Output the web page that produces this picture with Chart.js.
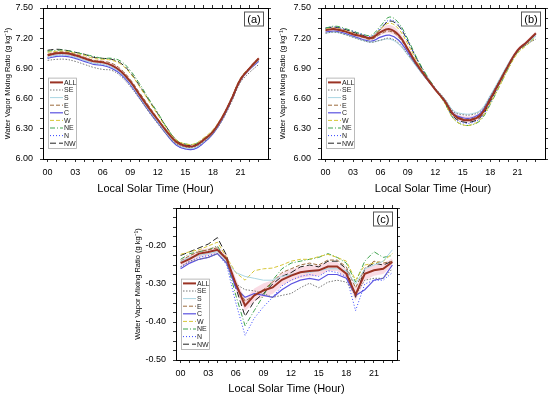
<!DOCTYPE html>
<html>
<head>
<meta charset="utf-8">
<script src="https://cdn.jsdelivr.net/npm/chart.js@4.4.0/dist/chart.umd.min.js"></script>
<style>
  body { margin: 0; background: #fff; width: 550px; height: 397px; position: relative; overflow: hidden; }
  .panel { position: absolute; }
</style>
</head>
<body>
<div class="panel" style="left:0;top:0;width:275px;height:197px"><canvas id="chartA"></canvas></div>
<div class="panel" style="left:275px;top:0;width:275px;height:197px"><canvas id="chartB"></canvas></div>
<div class="panel" style="left:130px;top:200px;width:272px;height:197px"><canvas id="chartC"></canvas></div>
<script>
// Timmar och etiketter
const HOURS = [0,1,2,3,4,5,6,7,8,9,10,11,12,13,14,15,16,17,18,19,20,21,22,23];
const X_LABELS = ['00','03','06','09','12','15','18','21'];
const SERIES = ['ALL','SE','S','E','C','W','NE','N','NW'];
const Y_LABELS_AB = ['6.00','6.30','6.60','6.90','7.20','7.50'];
const Y_LABELS_C = ['-0.50','-0.40','-0.30','-0.20'];

// (a)
const A_ALL = [7.03,7.05,7.05,7.03,7.00,6.97,6.96,6.93,6.87,6.77,6.64,6.51,6.39,6.27,6.17,6.13,6.13,6.19,6.27,6.41,6.59,6.79,6.90,7.00];
const A_SE  = [6.98,6.99,6.99,6.97,6.94,6.91,6.89,6.88,6.82,6.72,6.60,6.47,6.35,6.24,6.15,6.12,6.12,6.17,6.25,6.38,6.56,6.76,6.86,6.94];
const A_S   = [7.01,7.03,7.03,7.01,6.98,6.95,6.94,6.91,6.85,6.75,6.62,6.49,6.37,6.25,6.15,6.11,6.11,6.17,6.26,6.40,6.59,6.78,6.89,6.98];
const A_E   = [7.04,7.06,7.06,7.04,7.01,6.98,6.97,6.95,6.89,6.79,6.66,6.53,6.40,6.28,6.18,6.13,6.13,6.19,6.27,6.41,6.60,6.80,6.91,7.01];
const A_C   = [7.00,7.02,7.02,7.00,6.97,6.94,6.93,6.90,6.84,6.74,6.61,6.48,6.36,6.24,6.14,6.10,6.10,6.16,6.25,6.39,6.58,6.78,6.89,6.97];
const A_W   = [7.06,7.07,7.07,7.05,7.03,7.00,6.99,6.98,6.94,6.85,6.72,6.58,6.44,6.30,6.19,6.15,6.15,6.21,6.29,6.42,6.60,6.80,6.91,6.99];
const A_NE  = [7.07,7.08,7.08,7.06,7.04,7.02,7.00,7.00,6.97,6.88,6.75,6.60,6.46,6.31,6.19,6.15,6.15,6.20,6.28,6.41,6.59,6.79,6.90,6.98];
const A_N   = [7.01,7.03,7.03,7.01,6.98,6.95,6.94,6.91,6.85,6.74,6.61,6.48,6.36,6.24,6.14,6.10,6.10,6.16,6.25,6.39,6.58,6.79,6.90,6.99];
const A_NW  = [7.08,7.09,7.08,7.06,7.04,7.01,7.00,6.99,6.95,6.86,6.73,6.59,6.45,6.31,6.19,6.14,6.14,6.19,6.27,6.40,6.58,6.78,6.90,6.99];
const A_BAND_LO = [7.01,7.03,7.03,7.01,6.98,6.95,6.94,6.91,6.85,6.75,6.62,6.49,6.37,6.25,6.15,6.11,6.11,6.17,6.25,6.39,6.57,6.77,6.88,6.98];
const A_BAND_HI = [7.05,7.07,7.07,7.05,7.02,6.99,6.98,6.95,6.89,6.79,6.66,6.53,6.41,6.29,6.19,6.15,6.15,6.21,6.29,6.43,6.61,6.81,6.92,7.02];

// (b)
const B_ALL = [7.28,7.29,7.27,7.24,7.22,7.20,7.26,7.29,7.23,7.09,6.94,6.81,6.69,6.58,6.44,6.39,6.39,6.44,6.59,6.76,6.93,7.08,7.16,7.25];
const B_SE  = [7.25,7.26,7.24,7.21,7.18,7.16,7.18,7.20,7.15,7.04,6.92,6.80,6.70,6.60,6.47,6.44,6.44,6.48,6.62,6.78,6.94,7.07,7.14,7.19];
const B_S   = [7.25,7.26,7.24,7.21,7.18,7.16,7.18,7.19,7.14,7.03,6.91,6.80,6.70,6.60,6.48,6.45,6.45,6.49,6.63,6.79,6.95,7.08,7.15,7.22];
const B_E   = [7.28,7.29,7.27,7.24,7.21,7.19,7.24,7.27,7.21,7.08,6.93,6.80,6.69,6.58,6.45,6.40,6.40,6.45,6.60,6.77,6.94,7.08,7.16,7.24];
const B_C   = [7.26,7.27,7.25,7.22,7.19,7.17,7.21,7.23,7.18,7.06,6.92,6.80,6.69,6.58,6.45,6.41,6.41,6.46,6.61,6.77,6.94,7.08,7.16,7.24];
const B_W   = [7.29,7.30,7.28,7.25,7.22,7.21,7.29,7.35,7.29,7.14,6.97,6.82,6.69,6.56,6.40,6.34,6.34,6.40,6.55,6.72,6.90,7.05,7.13,7.21];
const B_NE  = [7.30,7.32,7.30,7.27,7.24,7.23,7.32,7.41,7.35,7.19,7.00,6.84,6.70,6.56,6.40,6.34,6.34,6.39,6.54,6.72,6.90,7.06,7.14,7.22];
const B_N   = [7.30,7.31,7.29,7.27,7.24,7.22,7.30,7.38,7.33,7.17,6.99,6.83,6.70,6.57,6.41,6.36,6.36,6.41,6.56,6.74,6.92,7.07,7.15,7.24];
const B_NW  = [7.30,7.31,7.29,7.26,7.23,7.21,7.29,7.37,7.32,7.17,6.99,6.83,6.70,6.57,6.42,6.37,6.37,6.42,6.57,6.75,6.92,7.07,7.15,7.24];
const B_BAND_LO = [7.26,7.27,7.25,7.22,7.20,7.18,7.23,7.25,7.20,7.07,6.92,6.79,6.68,6.57,6.42,6.37,6.37,6.42,6.57,6.74,6.91,7.06,7.14,7.23];
const B_BAND_HI = [7.30,7.31,7.29,7.26,7.24,7.22,7.29,7.33,7.27,7.12,6.96,6.83,6.71,6.60,6.47,6.43,6.43,6.47,6.62,6.79,6.96,7.10,7.18,7.27];

// (c)
const C_ALL = [-0.245,-0.234,-0.220,-0.216,-0.210,-0.234,-0.300,-0.357,-0.330,-0.317,-0.309,-0.289,-0.278,-0.269,-0.266,-0.264,-0.254,-0.254,-0.273,-0.328,-0.273,-0.264,-0.260,-0.242];
const C_SE  = [-0.255,-0.240,-0.235,-0.230,-0.220,-0.245,-0.300,-0.315,-0.318,-0.325,-0.335,-0.330,-0.325,-0.310,-0.298,-0.310,-0.295,-0.290,-0.295,-0.330,-0.290,-0.285,-0.285,-0.260];
const C_S   = [-0.240,-0.230,-0.225,-0.220,-0.215,-0.240,-0.270,-0.280,-0.285,-0.290,-0.290,-0.280,-0.275,-0.270,-0.270,-0.265,-0.260,-0.260,-0.265,-0.300,-0.260,-0.250,-0.240,-0.210];
const C_E   = [-0.240,-0.225,-0.215,-0.210,-0.205,-0.235,-0.300,-0.345,-0.330,-0.315,-0.295,-0.270,-0.260,-0.250,-0.245,-0.250,-0.237,-0.237,-0.255,-0.310,-0.260,-0.240,-0.245,-0.240];
const C_C   = [-0.260,-0.245,-0.235,-0.230,-0.220,-0.245,-0.310,-0.335,-0.325,-0.330,-0.335,-0.315,-0.300,-0.290,-0.285,-0.290,-0.275,-0.275,-0.285,-0.330,-0.315,-0.290,-0.285,-0.250];
const C_W   = [-0.222,-0.215,-0.210,-0.200,-0.190,-0.230,-0.270,-0.290,-0.265,-0.260,-0.258,-0.250,-0.240,-0.235,-0.235,-0.228,-0.222,-0.230,-0.240,-0.290,-0.250,-0.245,-0.240,-0.220];
const C_NE  = [-0.235,-0.220,-0.215,-0.210,-0.200,-0.240,-0.330,-0.410,-0.370,-0.330,-0.290,-0.260,-0.245,-0.240,-0.235,-0.230,-0.220,-0.230,-0.245,-0.295,-0.240,-0.215,-0.230,-0.225];
const C_N   = [-0.255,-0.240,-0.230,-0.225,-0.220,-0.250,-0.350,-0.435,-0.390,-0.360,-0.335,-0.305,-0.290,-0.280,-0.275,-0.280,-0.265,-0.270,-0.280,-0.370,-0.300,-0.290,-0.290,-0.270];
const C_NW  = [-0.225,-0.215,-0.205,-0.195,-0.178,-0.225,-0.310,-0.385,-0.345,-0.325,-0.300,-0.280,-0.270,-0.255,-0.250,-0.255,-0.240,-0.240,-0.260,-0.335,-0.260,-0.245,-0.250,-0.240];
const C_BAND_LO = [-0.255,-0.244,-0.230,-0.226,-0.220,-0.246,-0.315,-0.372,-0.346,-0.334,-0.326,-0.304,-0.292,-0.284,-0.280,-0.278,-0.266,-0.266,-0.286,-0.344,-0.290,-0.278,-0.274,-0.252];
const C_BAND_HI = [-0.235,-0.224,-0.210,-0.206,-0.200,-0.222,-0.285,-0.340,-0.312,-0.298,-0.290,-0.272,-0.262,-0.254,-0.252,-0.250,-0.242,-0.242,-0.260,-0.312,-0.256,-0.250,-0.246,-0.232];

// Linjestilar per serie
const STYLE = {
  ALL: { color: '#9a3324', width: 2,   dash: [] },
  SE:  { color: '#777777', width: 1,   dash: [1.5, 1.5] },
  S:   { color: '#a9d6e3', width: 1,   dash: [] },
  E:   { color: '#9c6b3c', width: 1,   dash: [4, 2] },
  C:   { color: '#5a52e0', width: 1.2, dash: [] },
  W:   { color: '#d6c637', width: 1,   dash: [4, 2] },
  NE:  { color: '#3fa34d', width: 1,   dash: [5, 2, 1, 2] },
  N:   { color: '#3344ff', width: 1,   dash: [1, 2] },
  NW:  { color: '#222222', width: 1,   dash: [6, 3] }
};
const BAND_COLOR = 'rgba(246, 190, 205, 0.55)';

const FONT = '"Liberation Sans", Arial, Helvetica, sans-serif';

// Legend + panelnamn inne i ritytan
const insideLegend = {
  id: 'insideLegend',
  afterDatasetsDraw(chart, args, opts) {
    const ctx = chart.ctx;
    const a = chart.chartArea;
    const rowH = 7.6;
    const items = chart.data.datasets.filter(ds => !ds.isBand);
    const h = items.length * rowH + 2;
    const x0 = a.left + opts.dx;
    const y0 = a.bottom - opts.dy - h;
    ctx.save();
    ctx.fillStyle = '#fff';
    ctx.fillRect(x0, y0, opts.w, h);
    ctx.strokeStyle = '#aaa';
    ctx.lineWidth = 0.8;
    ctx.strokeRect(x0 + 0.5, y0 + 0.5, opts.w, h);
    ctx.font = '7px ' + FONT;
    ctx.textBaseline = 'middle';
    items.forEach((ds, i) => {
      const y = y0 + 1 + rowH * (i + 0.5);
      ctx.strokeStyle = ds.borderColor;
      ctx.lineWidth = ds.borderWidth;
      ctx.setLineDash(ds.borderDash || []);
      ctx.beginPath();
      ctx.moveTo(x0 + 2, y);
      ctx.lineTo(x0 + 15, y);
      ctx.stroke();
      ctx.setLineDash([]);
      ctx.fillStyle = '#222';
      ctx.fillText(ds.label, x0 + 16, y + 0.5);
    });
    // panelnamn (a), (b), (c)
    const bw = 19, bh = 14;
    const bx = a.right - opts.tagRight - bw;
    const by = a.top + opts.tagTop;
    ctx.fillStyle = '#fff';
    ctx.fillRect(bx, by, bw, bh);
    ctx.strokeStyle = '#555';
    ctx.lineWidth = 1;
    ctx.strokeRect(bx + 0.5, by + 0.5, bw, bh);
    ctx.fillStyle = '#000';
    ctx.font = '11px ' + FONT;
    ctx.textAlign = 'center';
    ctx.fillText(opts.tag, bx + bw / 2 + 0.5, by + bh / 2 + 1);
    ctx.restore();
  }
};

function toPoints(arr) {
  return HOURS.map((h, k) => ({ x: h, y: arr[k] }));
}

function makeDatasets(values, bandLo, bandHi) {
  const lines = SERIES.map((name, i) => ({
    label: name,
    data: toPoints(values[i]),
    borderColor: STYLE[name].color,
    borderWidth: STYLE[name].width,
    borderDash: STYLE[name].dash,
    pointRadius: 0,
    fill: false,
    order: 0
  }));
  // skuggat band runt ALL
  lines.push({
    label: 'lo', isBand: true, data: toPoints(bandLo),
    borderWidth: 0, borderColor: 'transparent', pointRadius: 0, fill: false, order: 5
  });
  lines.push({
    label: 'hi', isBand: true, data: toPoints(bandHi),
    borderWidth: 0, borderColor: 'transparent', pointRadius: 0,
    fill: '-1', backgroundColor: BAND_COLOR, order: 5
  });
  return lines;
}

function makeChart(id, values, bandLo, bandHi, p) {
  const yTicks = [];
  for (let v = p.yMin; v <= p.yMax + 1e-9; v += p.yMinor) yTicks.push(+v.toFixed(3));
  const xTickBuild = s => { s.ticks = HOURS.map(v => ({ value: v })); };
  const yTickBuild = s => { s.ticks = yTicks.map(v => ({ value: v })); };
  const axisBorder = { color: '#000', width: 1 };
  const tickGrid = { drawOnChartArea: false, tickLength: 3, color: '#000', lineWidth: 0.8 };

  return new Chart(document.getElementById(id), {
    type: 'line',
    data: { datasets: makeDatasets(values, bandLo, bandHi) },
    options: {
      responsive: true,
      maintainAspectRatio: false,
      animation: false,
      layout: { padding: { top: p.padTop, right: p.padRight, left: 0, bottom: 0 } },
      elements: { line: { tension: p.tension } },
      plugins: {
        legend: { display: false },
        tooltip: { enabled: false },
        filler: { propagate: false },
        insideLegend: { dx: 5, dy: 11, w: 28, tag: p.tag, tagRight: 5, tagTop: 3.5 }
      },
      scales: {
        x: {
          type: 'linear', min: -0.5, max: p.xMax,
          afterBuildTicks: xTickBuild,
          afterFit: s => { s.height = p.xH; s.paddingLeft = 0; s.paddingRight = 0; },
          ticks: {
            autoSkip: false, maxRotation: 0, padding: 5, color: '#000',
            font: { size: 9, family: FONT },
            callback: v => (v % 3 === 0 ? X_LABELS[v / 3] : '')
          },
          grid: tickGrid,
          border: axisBorder,
          title: {
            display: true, text: 'Local Solar Time (Hour)', color: '#000',
            font: { size: 11, family: FONT }, padding: { top: 0, bottom: 1 }
          }
        },
        xTop: {
          type: 'linear', position: 'top', min: -0.5, max: p.xMax,
          afterBuildTicks: xTickBuild,
          afterFit: s => { s.height = 3; s.paddingLeft = 0; s.paddingRight = 0; },
          ticks: { display: false },
          grid: tickGrid,
          border: axisBorder
        },
        y: {
          min: p.yMin, max: p.yMax,
          afterBuildTicks: yTickBuild,
          // fast bredd, ingen extra luft ovan/under
          afterFit: s => { s.width = p.yW; s.paddingTop = 0; s.paddingBottom = 0; },
          ticks: {
            autoSkip: false, padding: 7, color: '#000',
            font: { size: 9, family: FONT },
            callback: v => {
              const t = v.toFixed(2);
              return p.yLabels.includes(t) ? t : '';
            }
          },
          grid: tickGrid,
          border: axisBorder,
          title: {
            display: true, text: 'Water Vapor Mixing Ratio (g kg\u207B\u00B9)', color: '#000',
            font: { size: 7.5, family: FONT }, padding: { top: 3, bottom: 0 }
          }
        },
        yRight: {
          position: 'right', min: p.yMin, max: p.yMax,
          afterBuildTicks: yTickBuild,
          afterFit: s => { s.width = 3; s.paddingTop = 0; s.paddingBottom = 0; },
          ticks: { display: false },
          grid: tickGrid,
          border: axisBorder
        }
      }
    },
    plugins: [insideLegend]
  });
}

makeChart('chartA',
  [A_ALL, A_SE, A_S, A_E, A_C, A_W, A_NE, A_N, A_NW], A_BAND_LO, A_BAND_HI,
  { tag: '(a)', yMin: 6.0, yMax: 7.5, yMinor: 0.1, yLabels: Y_LABELS_AB, xMax: 24,
    padTop: 5, padRight: 4, yW: 43, xH: 38, tension: 0.4 });

makeChart('chartB',
  [B_ALL, B_SE, B_S, B_E, B_C, B_W, B_NE, B_N, B_NW], B_BAND_LO, B_BAND_HI,
  { tag: '(b)', yMin: 6.0, yMax: 7.5, yMinor: 0.1, yLabels: Y_LABELS_AB, xMax: 24,
    padTop: 5, padRight: 2, yW: 46, xH: 38, tension: 0.4 });

makeChart('chartC',
  [C_ALL, C_SE, C_S, C_E, C_C, C_W, C_NE, C_N, C_NW], C_BAND_LO, C_BAND_HI,
  { tag: '(c)', yMin: -0.5, yMax: -0.1, yMinor: 0.025, yLabels: Y_LABELS_C, xMax: 23.5,
    padTop: 5, padRight: 2, yW: 46, xH: 37, tension: 0 });
</script>
</body>
</html>
